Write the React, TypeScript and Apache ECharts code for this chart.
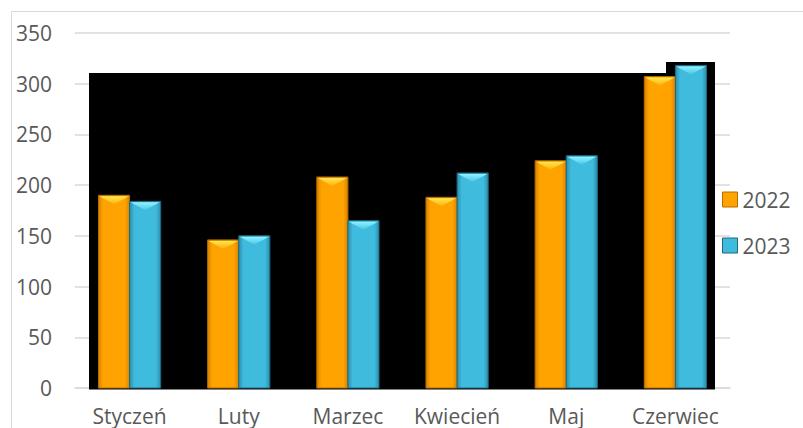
import React, { useEffect, useRef } from "react";
import * as echarts from "echarts";

const categories = ["Styczeń", "Luty", "Marzec", "Kwiecień", "Maj", "Czerwiec"];
const seriesNames = ["2022", "2023"];
const values2022 = [190, 146, 208, 188, 224, 307];
const values2023 = [184, 150, 165, 212, 229, 318];
const yTicks = { min: 0, max: 350, interval: 50 };

const palettes = [
  {
    edge: "#D98300",
    body: "#FFA300",
    outline: "#B56D00",
    topA: "#FFE94F",
    topB: "#FFAE0A",
  },
  {
    edge: "#2D8EAD",
    body: "#3EBBDD",
    outline: "#1E6A82",
    topA: "#92F2FF",
    topB: "#46C4E4",
  },
];

function makeRender(seriesIdx: number) {
  const p = palettes[seriesIdx];
  return (params: any, api: any) => {
    const cat = api.value(0);
    const v = api.value(1);
    const top = api.coord([cat, v]);
    const base = api.coord([cat, 0]);
    const band = api.size([1, 0])[0];
    const bw = band * 0.285;
    const x0 = seriesIdx === 0 ? top[0] - bw : top[0];
    const y0 = top[1];
    const h = base[1] - top[1];
    const bevel = Math.min(9, h);
    return {
      type: "group",
      children: [
        {
          type: "rect",
          shape: { x: x0, y: y0, width: bw, height: h },
          style: {
            fill: new echarts.graphic.LinearGradient(0, 0, 1, 0, [
              { offset: 0, color: p.edge },
              { offset: 0.15, color: p.body },
              { offset: 0.85, color: p.body },
              { offset: 1, color: p.edge },
            ]),
            stroke: p.outline,
            lineWidth: 1,
          },
        },
        {
          type: "polygon",
          shape: {
            points: [
              [x0 + 1, y0 + 1],
              [x0 + bw - 1, y0 + 1],
              [x0 + bw / 2, y0 + bevel],
            ],
          },
          style: {
            fill: new echarts.graphic.LinearGradient(0, 0, 0, 1, [
              { offset: 0, color: p.topA },
              { offset: 1, color: p.topB },
            ]),
          },
        },
      ],
    };
  };
}

export default function App() {
  const ref = useRef<HTMLDivElement>(null);
  useEffect(() => {
    if (!ref.current) return;
    const chart = echarts.init(ref.current, undefined, { renderer: "svg" });
    const font = "'Open Sans', sans-serif";
    chart.setOption({
      animation: false,
      backgroundColor: "#ffffff",
      textStyle: { fontFamily: font },
      grid: { left: 75, right: 73, top: 33, bottom: 40, containLabel: false },
      graphic: [
        {
          type: "rect",
          z: -10,
          shape: { x: 11.5, y: 11.5, width: 900, height: 600 },
          style: { fill: "none", stroke: "#d9d9d9", lineWidth: 1 },
        },
        {
          type: "polygon",
          z: 1,
          shape: {
            points: [
              [89, 388],
              [89, 73],
              [666, 73],
              [666, 62],
              [715, 62],
              [715, 388],
            ],
          },
          style: { fill: "#000000" },
        },
        {
          type: "rect",
          z: 1,
          shape: { x: 89, y: 387, width: 626, height: 2.5 },
          style: { fill: "#000000" },
        },
      ],
      legend: {
        orient: "vertical",
        left: 717,
        top: 184,
        itemGap: 25,
        itemWidth: 15,
        itemHeight: 15,
        textStyle: { fontSize: 21, color: "#595959", fontFamily: font },
        data: [
          {
            name: seriesNames[0],
            icon: "rect",
            itemStyle: { color: palettes[0].body, borderColor: palettes[0].outline, borderWidth: 1 },
          },
          {
            name: seriesNames[1],
            icon: "rect",
            itemStyle: { color: palettes[1].body, borderColor: palettes[1].outline, borderWidth: 1 },
          },
        ],
      },
      xAxis: {
        type: "category",
        data: categories,
        axisLine: { show: true, lineStyle: { color: "#d9d9d9", width: 1.5 } },
        axisTick: { show: false },
        axisLabel: { fontSize: 21, color: "#595959", margin: 17, fontFamily: font, interval: 0 },
        splitLine: { show: false },
      },
      yAxis: {
        type: "value",
        min: yTicks.min,
        max: yTicks.max,
        interval: yTicks.interval,
        axisLine: { show: false },
        axisTick: { show: false },
        axisLabel: { fontSize: 21, color: "#595959", margin: 23, fontFamily: font },
        splitLine: { lineStyle: { color: "#d9d9d9", width: 1.5 } },
      },
      series: [
        {
          name: seriesNames[0],
          type: "custom",
          z: 5,
          itemStyle: { color: palettes[0].body },
          renderItem: makeRender(0),
          data: values2022.map((v, i) => [i, v]),
        },
        {
          name: seriesNames[1],
          type: "custom",
          z: 5,
          itemStyle: { color: palettes[1].body },
          renderItem: makeRender(1),
          data: values2023.map((v, i) => [i, v]),
        },
      ],
    });
    return () => chart.dispose();
  }, []);
  return (
    <div
      ref={ref}
      style={{ position: "fixed", left: 0, top: 0, width: 803, height: 428 }}
    />
  );
}
